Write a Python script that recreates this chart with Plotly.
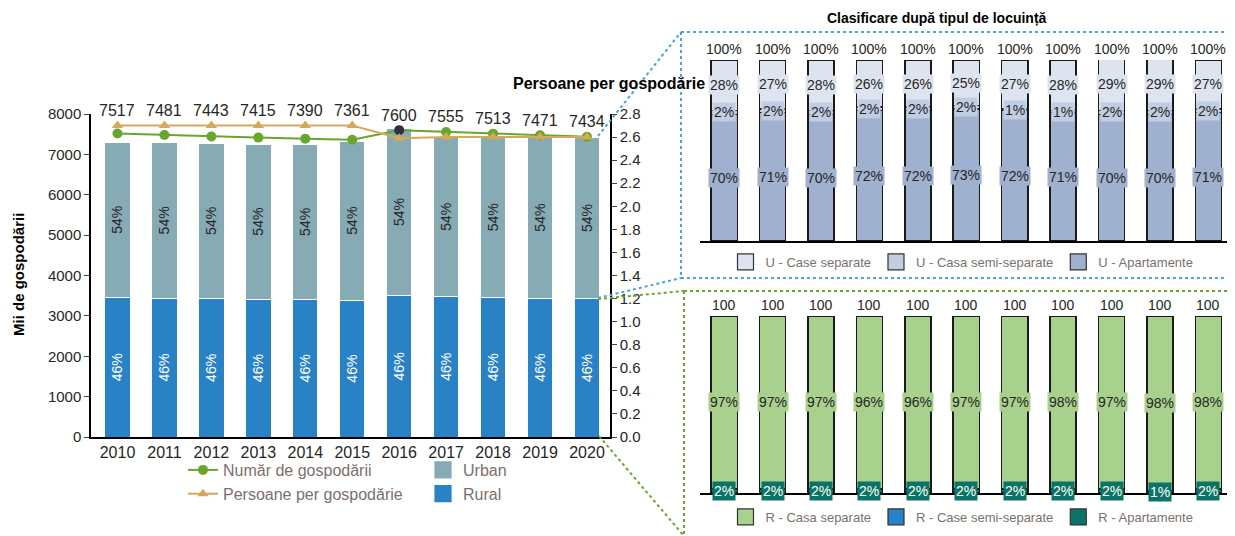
import plotly.graph_objects as go

W, H = 1235, 536
OX, OY = 8, 8  # page body margin offset
FONT = "Liberation Sans, Arial, sans-serif"
TXT = "#262626"
LEG_TXT = "#7b706c"

# ---- left chart: households ----
years = ["2010", "2011", "2012", "2013", "2014", "2015", "2016", "2017", "2018", "2019", "2020"]
households = [7517, 7481, 7443, 7415, 7390, 7361, 7600, 7555, 7513, 7471, 7434]
persons_per_household = [2.70, 2.70, 2.70, 2.70, 2.70, 2.70, 2.59, 2.60, 2.60, 2.60, 2.60]
rural = [3458, 3441, 3424, 3411, 3399, 3386, 3496, 3475, 3456, 3437, 3420]
urban = [3848, 3849, 3857, 3846, 3858, 3945, 4154, 3955, 3974, 3993, 4010]
rural_share = [46, 46, 46, 46, 46, 46, 46, 46, 46, 46, 46]
urban_share = [54, 54, 54, 54, 54, 54, 54, 54, 54, 54, 54]
highlight_year = "2016"

# ---- right top: urban dwelling types (%) ----
u_separate = [28, 27, 28, 26, 26, 25, 27, 28, 29, 29, 27]
u_semi = [2, 2, 2, 2, 2, 2, 1, 1, 2, 2, 2]
u_apart = [70, 71, 70, 72, 72, 73, 72, 71, 70, 70, 71]
u_total = [100, 100, 100, 100, 100, 100, 100, 100, 100, 100, 100]

# ---- right bottom: rural dwelling types (%) ----
r_separate = [97.6, 97.6, 97.6, 97.5, 97.5, 97.6, 97.6, 97.7, 97.6, 98.6, 97.7]
r_semi = [0.4, 0.4, 0.4, 0.5, 0.5, 0.4, 0.4, 0.3, 0.4, 0.4, 0.3]
r_apart = [2, 2, 2, 2, 2, 2, 2, 2, 2, 1, 2]
r_separate_lbl = [97, 97, 97, 96, 96, 97, 97, 98, 97, 98, 98]
r_apart_lbl = [2, 2, 2, 2, 2, 2, 2, 2, 2, 1, 2]
r_total = [100, 100, 100, 100, 100, 100, 100, 100, 100, 100, 100]


def px(x, y):
    # window pixel -> paper fraction
    return (x - OX) / W, 1 - (y - OY) / H


def dom_x(a, b):
    return [px(a, 0)[0], min(px(b, 0)[0], 1)]


def dom_y(bottom, top):
    return [px(0, bottom)[1], px(0, top)[1]]


fig = go.Figure()

# stacked bars, left chart
fig.add_trace(go.Bar(
    x=years, y=rural, name="Rural", xaxis="x", yaxis="y", showlegend=False,
    marker=dict(color="#2a82c6", line=dict(color="white", width=1)),
    text=[f"{v}%" for v in rural_share], textposition="inside", textangle=-90,
    insidetextanchor="middle", textfont=dict(color="white", size=14),
))
fig.add_trace(go.Bar(
    x=years, y=urban, name="Urban", xaxis="x", yaxis="y", showlegend=False,
    marker=dict(color="#86abb5", line=dict(color="white", width=1)),
    text=[f"{v}%" for v in urban_share], textposition="inside", textangle=-90,
    insidetextanchor="middle", textfont=dict(color=TXT, size=14),
))

green_marks = ["#2f2f47" if yr == highlight_year else "#6aa62c" for yr in years]
fig.add_trace(go.Scatter(
    x=years, y=households, name="Număr de gospodării", mode="lines+markers",
    xaxis="x", yaxis="y",
    line=dict(color="#6aa62c", width=2),
    marker=dict(symbol="circle", size=10, color=green_marks),
    legend="legend", legendrank=1,
))
fig.add_trace(go.Scatter(
    x=years, y=persons_per_household, name="Persoane per gospodărie", mode="lines+markers",
    xaxis="x", yaxis="y2",
    line=dict(color="#d6a85a", width=2),
    marker=dict(symbol="triangle-up", size=10, color="#d6a85a"),
    legend="legend", legendrank=2,
))

# urban dwelling types
u_cols = {"sep": "#dee4ef", "semi": "#c1cde1", "apt": "#9fb1cf"}
u_series = [
    (u_apart, "U - Apartamente", u_cols["apt"], 3),
    (u_semi, "U - Casa semi-separate", u_cols["semi"], 2),
    (u_separate, "U - Case separate", u_cols["sep"], 1),
]
for vals, name, col, rank in u_series:
    fig.add_trace(go.Bar(
        x=years, y=vals, name=name, xaxis="x3", yaxis="y3", showlegend=False,
        marker=dict(color=col, line=dict(color="#1a1a1a", width=1.5)),
    ))

# rural dwelling types
r_cols = {"sep": "#a9d18e", "semi": "#2a82c6", "apt": "#0c7466"}
r_series = [
    (r_apart, "R - Apartamente", r_cols["apt"], 3),
    (r_semi, "R - Case semi-separate", r_cols["semi"], 2),
    (r_separate, "R - Casa separate", r_cols["sep"], 1),
]
for vals, name, col, rank in r_series:
    fig.add_trace(go.Bar(
        x=years, y=vals, name=name, xaxis="x4", yaxis="y4", showlegend=False,
        marker=dict(color=col, line=dict(color="#1a1a1a", width=1.5)),
    ))

# legend-only square swatches (bigger than plotly's default bar icon)
for name, col, rank, leg, edge in [
    ("Urban", "#86abb5", 1, "legend2", "#86abb5"),
    ("Rural", "#2a82c6", 2, "legend2", "#2a82c6"),
] + [(n, c, r, "legend3", "#333") for _, n, c, r in u_series] \
  + [(n, c, r, "legend4", "#333") for _, n, c, r in r_series]:
    fig.add_trace(go.Scatter(
        x=[None], y=[None], name=name, mode="markers", xaxis="x", yaxis="y",
        marker=dict(symbol="square", size=16, color=col, line=dict(color=edge, width=1.2)),
        legend=leg, legendrank=rank,
    ))

ann = []
# household count labels above the lines (x given as category index)
for i, (h, p) in enumerate(zip(households, persons_per_household)):
    top = max(h, p * 8000 / 2.8)
    ann.append(dict(x=i, y=top, xref="x", yref="y", text=str(h), showarrow=False,
                    xanchor="center", yanchor="middle", yshift=15, font=dict(size=16, color=TXT)))

# urban segment labels
for i, (a, s, e, t) in enumerate(zip(u_apart, u_semi, u_separate, u_total)):
    for yv, txt, col in [(a / 2, f"{a}%", u_cols["apt"]),
                         (a + s / 2, f"{s}%", u_cols["semi"]),
                         (a + s + e / 2, f"{e}%", u_cols["sep"])]:
        ann.append(dict(x=i, y=yv, xref="x3", yref="y3", text=txt, showarrow=False,
                        xanchor="center", yanchor="middle",
                        bgcolor=col, borderpad=1, font=dict(size=14, color=TXT)))
    ann.append(dict(x=i, y=t, xref="x3", yref="y3", text=f"{t}%", showarrow=False,
                    xanchor="center", yanchor="bottom", yshift=1, font=dict(size=14, color=TXT)))

# rural segment labels
for i, (a, s, e, el, al, t) in enumerate(zip(r_apart, r_semi, r_separate,
                                              r_separate_lbl, r_apart_lbl, r_total)):
    ann.append(dict(x=i, y=a + s + e / 2, xref="x4", yref="y4", text=f"{el}%", showarrow=False,
                    xanchor="center", yanchor="middle",
                    bgcolor=r_cols["sep"], borderpad=1, font=dict(size=14, color=TXT)))
    ann.append(dict(x=i, y=a / 2, xref="x4", yref="y4", text=f"{al}%", showarrow=False,
                    xanchor="center", yanchor="middle",
                    bgcolor=r_cols["apt"], borderpad=1, font=dict(size=14, color="white")))
    ann.append(dict(x=i, y=t, xref="x4", yref="y4", text=str(t), showarrow=False,
                    xanchor="center", yanchor="bottom", yshift=1, font=dict(size=14, color=TXT)))

# titles
for (cx, cy), txt, size, ang in [
    ((18, 275), "<b>Mii de gospodării</b>", 15, -90),
    ((609, 83), "<b>Persoane per gospodărie</b>", 16, 0),
    ((937, 18), "<b>Clasificare după tipul de locuință</b>", 14, 0),
]:
    tx, ty = px(cx, cy)
    ann.append(dict(x=tx, y=ty, xref="paper", yref="paper", text=txt, textangle=ang,
                    xanchor="center", yanchor="middle", showarrow=False,
                    font=dict(size=size, color="#000")))

# zoom-callout connectors and panel frames
shapes = []


def seg(p0, p1, color):
    x0, y0 = px(*p0)
    x1, y1 = px(*p1)
    shapes.append(dict(type="line", xref="paper", yref="paper", x0=x0, y0=y0, x1=x1, y1=y1,
                       line=dict(color=color, width=2, dash="dot")))


BLUE = "#4ea3d3"
GREEN = "#6aa62c"
seg((598, 136), (681, 32), BLUE)
seg((598, 298), (681, 278), BLUE)
seg((681, 32), (1245, 32), BLUE)
seg((681, 32), (681, 278), BLUE)
seg((681, 278), (1245, 278), BLUE)
seg((598, 299), (684, 291), GREEN)
seg((599, 436), (684, 536), GREEN)
seg((684, 291), (1245, 291), GREEN)
seg((684, 291), (684, 545), GREEN)

axis_common = dict(showgrid=False, zeroline=False, showline=True, linecolor="#000", linewidth=1.5,
                   automargin=False)
cat_axis = dict(type="category", categoryorder="array", categoryarray=years, autorange=False)

leg_common = dict(traceorder="normal", bgcolor="rgba(0,0,0,0)")

fig.update_layout(
    width=W, height=H, autosize=False,
    margin=dict(l=0, r=0, t=0, b=0, pad=0, autoexpand=False),
    paper_bgcolor="white", plot_bgcolor="rgba(0,0,0,0)",
    font=dict(family=FONT, color=TXT),
    barmode="stack", bargap=0.46,
    showlegend=True,
    xaxis=dict(domain=dom_x(91, 610), anchor="y", ticks="", range=[-0.564, 10.49],
               tickfont=dict(size=16, color=TXT), **cat_axis, **axis_common),
    yaxis=dict(domain=dom_y(437, 114), range=[0, 8000], dtick=1000, ticks="outside",
               ticklen=5, tickfont=dict(size=15, color=TXT), anchor="x", **axis_common),
    yaxis2=dict(overlaying="y", side="right", anchor="x", range=[0, 2.8], dtick=0.2,
                tickformat=".1f", ticks="outside", ticklen=5, tickfont=dict(size=15, color=TXT),
                **axis_common),
    xaxis3=dict(domain=dom_x(700, 1235), anchor="y3", ticks="", showticklabels=False,
                range=[-0.5, 10.55], **cat_axis, **axis_common),
    yaxis3=dict(domain=dom_y(241, 60), range=[0, 100], visible=False, anchor="x3"),
    xaxis4=dict(domain=dom_x(700, 1235), anchor="y4", ticks="", showticklabels=False,
                range=[-0.5, 10.55], **cat_axis, **axis_common),
    yaxis4=dict(domain=dom_y(493, 316), range=[0, 100], visible=False, anchor="x4"),
    legend=dict(x=px(183, 0)[0], y=px(0, 453)[1], xanchor="left", yanchor="top",
                orientation="v", font=dict(size=16, color=LEG_TXT), **leg_common),
    legend2=dict(x=px(423, 0)[0], y=px(0, 453)[1], xanchor="left", yanchor="top",
                 orientation="v", font=dict(size=16, color=LEG_TXT), **leg_common),
    legend3=dict(x=px(962, 0)[0], y=px(0, 262)[1], xanchor="center", yanchor="middle",
                 orientation="h", font=dict(size=13, color=LEG_TXT), **leg_common),
    legend4=dict(x=px(962, 0)[0], y=px(0, 517)[1], xanchor="center", yanchor="middle",
                 orientation="h", font=dict(size=13, color=LEG_TXT), **leg_common),
    annotations=ann,
    shapes=shapes,
)

fig.write_html("out.html")
